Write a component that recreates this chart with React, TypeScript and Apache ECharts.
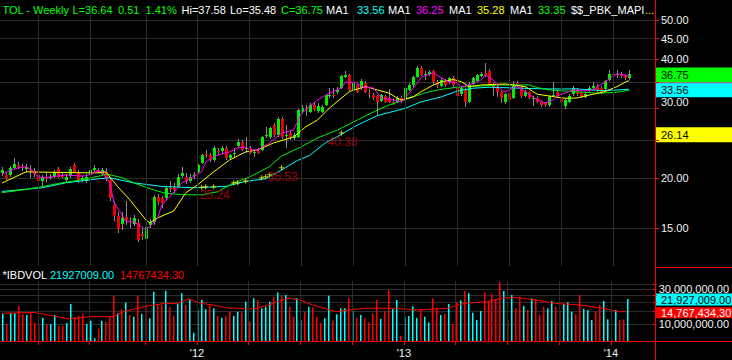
import React, { useEffect, useRef } from "react";
import * as echarts from "echarts";

// ---------------- data ----------------
const SLOT_COUNT = 164; // weekly slots on the x axis (158 candles + empty space at right)
const YEAR_LABELS: [number, string][] = [
  [49, "'12"],
  [101, "'13"],
  [153, "'14"],
];
const QUARTER_INDEX = [9, 22, 36, 49, 62, 75, 88, 101, 114, 127, 140, 153];
const PRICE_TICKS = [15, 20, 25, 30, 35, 40, 45, 50];
const PRICE_LABELS = [15, 20, 30, 40, 45, 50];
const PRICE_AXIS_MIN = 12.04;
const PRICE_AXIS_MAX = 51.6;
const VOL_TICKS_M = [10, 15, 20, 25, 30, 35];
const VOL_LABELS_M = [10, 30];
const VOL_AXIS_MIN_M = 5.68;
const VOL_AXIS_MAX_M = 38.6;

// [open, close, low, high]
const OHLC: number[][] = [
  [20.6, 21.0, 20.3, 21.4], [20.4, 20.0, 19.8, 20.7], [20.4, 21.3, 20.2, 21.5], [21.3, 21.7, 21.1, 22.5],
  [21.6, 21.4, 21.1, 22.0], [21.4, 21.2, 20.9, 21.7], [21.1, 21.4, 20.8, 21.7], [21.1, 21.0, 20.0, 21.6],
  [20.9, 20.5, 20.2, 21.2], [20.4, 19.7, 19.5, 20.6], [19.7, 20.2, 19.1, 20.4], [20.1, 20.0, 19.6, 20.6],
  [20.0, 20.2, 19.8, 20.5], [20.2, 20.8, 20.0, 21.0], [21.1, 20.2, 20.0, 21.4], [20.3, 20.2, 19.9, 20.7],
  [19.8, 20.2, 19.6, 20.5], [20.3, 21.1, 20.1, 21.4], [21.6, 20.8, 20.6, 21.9], [20.8, 19.7, 19.5, 21.0],
  [19.8, 20.0, 19.6, 20.3], [19.7, 20.2, 19.5, 20.5], [20.4, 21.0, 20.2, 21.2], [21.0, 21.2, 20.8, 21.6],
  [21.0, 20.8, 20.6, 21.2], [20.5, 21.0, 20.3, 21.3], [20.8, 19.9, 19.7, 21.3], [19.85, 17.9, 17.6, 20.2],
  [17.1, 16.1, 15.6, 17.6], [16.1, 14.9, 14.6, 16.5], [15.4, 15.9, 14.8, 16.5], [15.95, 15.75, 15.3, 17.6],
  [15.6, 15.5, 15.0, 16.0], [15.4, 15.9, 15.2, 16.2], [15.45, 14.0, 13.8, 15.8], [14.5, 14.35, 14.0, 15.0],
  [14.1, 15.1, 13.1, 15.3], [15.3, 15.5, 15.0, 15.8], [15.5, 18.0, 15.3, 18.2], [18.0, 17.4, 17.1, 18.3],
  [17.85, 17.3, 16.9, 18.1], [17.9, 18.95, 17.6, 19.1], [18.95, 18.85, 18.5, 19.7], [19.0, 18.7, 18.4, 19.5],
  [19.05, 20.2, 18.9, 20.5], [20.3, 20.6, 20.0, 21.4], [20.2, 19.7, 19.4, 20.6], [19.7, 20.2, 19.5, 20.5],
  [20.3, 20.4, 19.9, 20.8], [20.8, 21.6, 20.6, 21.8], [21.9, 22.9, 21.7, 23.1], [23.05, 22.85, 22.5, 23.6],
  [22.9, 22.25, 22.0, 23.2], [22.3, 23.9, 22.0, 24.2], [23.4, 23.3, 22.9, 23.9], [23.4, 23.9, 23.1, 24.1],
  [23.9, 22.5, 22.3, 24.1], [22.5, 22.9, 22.2, 23.1], [23.0, 23.2, 22.7, 23.8], [24.2, 24.7, 23.9, 25.2],
  [24.7, 23.6, 23.4, 25.0], [23.7, 23.8, 23.2, 25.4], [23.9, 23.2, 23.0, 24.1], [23.2, 23.3, 22.7, 23.6],
  [23.4, 23.2, 23.0, 23.8], [23.6, 25.4, 23.4, 25.6], [25.6, 25.7, 25.3, 26.9], [25.4, 26.8, 25.2, 27.0],
  [27.3, 25.7, 25.5, 27.6], [25.7, 28.2, 25.5, 28.5], [28.2, 25.4, 25.2, 28.5], [25.6, 25.8, 23.9, 27.3],
  [26.0, 25.4, 25.0, 26.4], [25.3, 25.7, 25.0, 26.0], [25.4, 29.7, 25.3, 29.9], [29.4, 30.1, 29.0, 30.6],
  [30.0, 29.9, 28.7, 30.6], [29.4, 30.6, 29.2, 31.0], [30.6, 29.8, 29.5, 31.0], [29.5, 30.5, 29.2, 30.9],
  [29.4, 30.2, 29.2, 30.6], [30.6, 32.4, 30.4, 32.7], [32.3, 32.4, 31.9, 33.8], [32.4, 32.3, 31.8, 33.8],
  [33.0, 33.4, 32.7, 34.0], [33.8, 36.2, 33.6, 36.4], [36.1, 36.4, 35.8, 37.3], [36.4, 33.4, 33.2, 36.6],
  [33.4, 34.8, 33.0, 35.0], [34.3, 33.0, 32.8, 34.6], [33.8, 35.2, 33.5, 35.6], [34.8, 33.0, 32.8, 35.2],
  [32.9, 32.8, 31.8, 33.6], [32.5, 31.9, 31.5, 32.8], [32.2, 31.2, 28.8, 32.5], [31.4, 32.4, 31.1, 32.7],
  [32.2, 31.2, 30.9, 32.5], [31.9, 31.2, 30.9, 33.6], [31.2, 31.0, 30.6, 31.8], [31.2, 31.9, 30.9, 32.3],
  [31.9, 31.3, 31.0, 32.2], [31.8, 33.8, 31.6, 34.0], [33.5, 34.4, 33.2, 34.8], [34.3, 36.0, 34.0, 36.3],
  [36.0, 38.0, 35.8, 38.3], [38.0, 36.5, 36.2, 38.5], [36.6, 36.7, 35.5, 37.4], [36.6, 37.1, 36.3, 37.6],
  [37.3, 34.9, 34.6, 37.6], [34.9, 34.3, 33.7, 35.3], [34.2, 35.4, 33.9, 35.8], [35.2, 34.3, 34.0, 35.6],
  [34.9, 35.8, 34.6, 36.1], [35.8, 34.3, 34.0, 36.2], [33.8, 32.3, 31.9, 34.1], [32.6, 33.8, 32.3, 34.1],
  [33.4, 31.2, 30.3, 33.7], [31.2, 34.6, 30.9, 34.9], [34.6, 35.8, 34.4, 36.1], [35.2, 36.4, 34.9, 36.7],
  [36.3, 36.7, 36.0, 37.1], [36.8, 36.5, 36.1, 39.0], [37.4, 34.5, 34.2, 37.8], [34.4, 33.8, 32.3, 34.7],
  [33.8, 33.0, 32.0, 34.2], [33.0, 31.9, 31.0, 33.3], [31.1, 32.6, 30.8, 32.9], [32.8, 31.5, 31.2, 33.0],
  [31.9, 34.2, 31.7, 35.2], [34.8, 34.6, 34.0, 35.1], [34.0, 32.3, 31.9, 34.3], [32.3, 33.0, 32.0, 33.4],
  [33.0, 31.9, 31.7, 33.2], [31.8, 31.9, 30.5, 32.3], [31.9, 31.2, 30.9, 32.2], [31.2, 30.6, 30.3, 31.5],
  [30.9, 30.6, 30.2, 31.2], [30.6, 32.1, 30.3, 32.5], [32.3, 32.4, 32.0, 34.9], [33.0, 32.3, 32.0, 33.4],
  [31.7, 31.1, 30.8, 32.0], [30.5, 31.5, 29.9, 31.8], [31.2, 32.3, 30.9, 32.6], [32.6, 33.8, 32.3, 34.1],
  [33.4, 32.6, 32.3, 33.7], [32.8, 32.3, 31.9, 33.1], [32.0, 32.6, 31.8, 33.0], [33.4, 33.8, 33.1, 34.2],
  [33.8, 34.2, 33.5, 35.0], [34.2, 33.4, 33.1, 34.5], [33.8, 33.0, 32.7, 34.1], [33.6, 35.2, 33.3, 35.4],
  [35.4, 36.7, 35.2, 37.5], [36.7, 36.5, 36.2, 37.5], [36.6, 36.7, 35.9, 37.5], [36.7, 36.2, 35.9, 37.0],
  [36.2, 35.9, 35.4, 36.5], [35.8, 36.75, 35.48, 37.58],
];

// weekly volume, millions of shares
const VOLUME_M = [
  13.7, 10.0, 14.1, 14.1, 17.6, 13.7, 13.3, 14.4, 10.4, 10.0, 12.2, 10.0, 10.0, 13.3, 9.5, 9.5,
  10.2, 18.7, 12.6, 13.0, 13.6, 10.0, 11.1, 6.4, 8.7, 11.1, 10.75, 12.6, 24.1, 14.0, 15.9, 19.5,
  13.3, 12.6, 24.1, 13.7, 18.2, 11.95, 27.6, 18.5, 18.2, 28.5, 16.9, 12.85, 19.1, 26.2, 18.2, 21.9,
  7.6, 15.5, 21.2, 15.9, 18.2, 16.4, 12.85, 12.2, 12.85, 14.8, 13.0, 14.7, 14.4, 20.1, 10.75, 22.4,
  21.2, 16.4, 17.2, 20.1, 23.6, 27.0, 24.3, 24.8, 17.2, 12.6, 22.4, 11.35, 14.7, 17.2, 16.9, 12.6,
  10.2, 11.95, 24.3, 11.2, 13.6, 16.4, 16.4, 22.7, 15.1, 12.2, 13.3, 12.0, 10.6, 13.8, 21.2, 11.7,
  14.8, 29.0, 16.0, 21.2, 6.9, 12.6, 12.9, 17.5, 12.1, 16.0, 12.6, 10.5, 22.4, 16.7, 13.3, 13.8,
  18.7, 10.0, 19.8, 21.0, 28.2, 26.2, 14.2, 11.35, 15.0, 27.0, 20.0, 25.6, 21.2, 37.0, 28.2, 11.35,
  24.8, 16.4, 23.6, 17.8, 15.5, 22.4, 21.9, 13.3, 17.2, 16.4, 20.6, 17.2, 15.5, 18.7, 19.8, 14.7,
  13.6, 24.8, 16.0, 15.5, 11.35, 14.7, 18.2, 20.6, 11.6, 6.2, 15.5, 11.35, 11.6, 21.927009,
];

// 1 = up week (cyan volume bar), 0 = down week (red volume bar)
const VOL_UP = [
  1, 0, 1, 1, 0, 0, 1, 0, 0, 0, 1, 0, 1, 1, 0, 0, 1, 1, 0, 0, 0, 1, 1, 1, 0, 1, 0, 0, 0, 1, 0, 1,
  0, 1, 0, 1, 0, 1, 1, 0, 0, 1, 0, 0, 1, 1, 0, 1, 1, 1, 1, 1, 0, 1, 0, 1, 0, 0, 1, 1, 0, 1, 0, 1,
  0, 1, 1, 1, 0, 1, 0, 1, 0, 0, 1, 1, 0, 1, 0, 0, 0, 1, 1, 0, 1, 1, 1, 0, 1, 0, 1, 0, 0, 0, 0, 1,
  0, 0, 1, 1, 0, 1, 1, 1, 1, 0, 1, 1, 0, 0, 1, 0, 1, 0, 0, 1, 0, 1, 1, 1, 1, 0, 0, 0, 0, 0, 1, 0,
  1, 0, 0, 1, 0, 1, 0, 0, 0, 1, 1, 0, 0, 1, 1, 1, 0, 0, 1, 1, 1, 0, 0, 1, 1, 0, 1, 0, 0, 1,
];

// moving averages: [week index, price]
const MA_CYAN: number[][] = [
  [0, 18.55], [10, 18.95], [16, 19.5], [24, 19.95], [27, 20.08], [33, 19.5], [40, 19.1], [48, 18.95],
  [56, 19.1], [61, 19.66], [66, 19.97], [70, 21.0], [74, 22.2], [77, 22.85], [81, 24.6], [84, 25.5],
  [89, 27.27], [94, 28.8], [101, 30.05], [105, 31.2], [110, 32.1], [114, 33.2], [118, 33.75], [122, 33.95],
  [130, 33.75], [137, 33.6], [144, 33.6], [150, 33.3], [154, 33.4], [157, 33.56],
];
const MA_GREEN: number[][] = [
  [0, 18.42], [5, 18.71], [10, 19.07], [15, 19.51], [20, 19.85], [25, 20.35], [26, 20.52], [30, 20.11],
  [33, 19.48], [38, 18.71], [41, 18.35], [46, 18.19], [50, 18.19], [54, 18.52], [58, 19.48], [62, 20.17],
  [67, 21.42], [70, 22.79], [75, 24.05], [79, 25.29], [84, 26.49], [89, 28.07], [94, 29.75], [97, 30.63],
  [102, 31.84], [106, 32.89], [109, 33.41], [114, 33.95], [120, 34.2], [125, 34.39], [132, 34.39], [134, 33.88],
  [137, 33.41], [143, 33.1], [149, 32.79], [154, 32.98], [157, 33.35],
];
const MA_YELLOW: number[][] = [
  [0, 19.48], [6, 20.78], [16, 20.7], [24, 20.66], [26, 20.78], [29, 19.06], [32, 17.67], [36, 15.74],
  [37, 15.47], [39, 15.92], [43, 16.57], [46, 18.4], [49, 19.28], [53, 20.78], [57, 22.27], [61, 23.33],
  [64, 23.6], [68, 24.57], [73, 25.44], [76, 26.96], [79, 28.07], [82, 30.1], [87, 33.1], [91, 34.07],
  [94, 33.41], [97, 32.79], [99, 31.84], [100, 31.53], [103, 32.14], [105, 33.1], [108, 34.39], [110, 35.06],
  [113, 35.5], [115, 35.06], [117, 34.07], [120, 34.39], [126, 34.59], [131, 34.07], [133, 33.1], [134, 32.6],
  [138, 32.14], [141, 31.84], [144, 31.9], [148, 32.6], [151, 33.1], [154, 34.07], [156, 34.94], [157, 35.28],
];
const MA_MAGENTA: number[][] = [
  [0, 20.52], [4, 21.27], [6, 21.4], [8, 20.78], [9, 20.17], [11, 20.08], [14, 20.3], [16, 20.43],
  [19, 20.3], [21, 20.3], [24, 20.9], [25, 20.8], [27, 19.48], [28, 17.46], [30, 16.2], [31, 15.56],
  [33, 15.56], [35, 15.12], [36, 14.86], [37, 15.12], [39, 15.92], [40, 17.16], [42, 17.98], [44, 18.95],
  [45, 19.48], [47, 19.96], [50, 20.78], [51, 22.0], [53, 22.65], [54, 22.92], [57, 23.33], [59, 23.87],
  [61, 24.0], [62, 23.6], [64, 23.6], [67, 24.57], [70, 26.03], [73, 26.49], [75, 29.2], [79, 31.53],
  [82, 32.8], [85, 33.8], [86, 35.0], [89, 34.8], [90, 34.0], [93, 33.8], [95, 31.9], [98, 31.53],
  [100, 31.17], [102, 32.86], [104, 34.8], [105, 36.0], [108, 36.9], [110, 35.82], [112, 35.0], [114, 34.8],
  [115, 34.0], [117, 34.39], [120, 35.41], [121, 36.45], [123, 35.41], [124, 34.39], [125, 33.41], [126, 33.03],
  [128, 33.8], [129, 34.2], [131, 33.03], [133, 32.08], [134, 31.53], [136, 30.99], [138, 31.53], [139, 32.27],
  [141, 32.84], [143, 33.41], [144, 33.41], [146, 33.2], [148, 33.41], [149, 34.0], [151, 35.0], [153, 36.24],
  [154, 36.66], [156, 36.45], [157, 36.25],
];
// volume moving average: [week index, millions]
const VOL_MA_M: number[][] = [
  [0, 14.0], [8, 14.4], [17, 11.7], [22, 12.6], [28, 12.6], [31, 15.0], [37, 17.8], [41, 19.1],
  [44, 19.1], [47, 21.9], [50, 19.1], [53, 18.2], [57, 16.4], [60, 16.4], [62, 15.9], [64, 16.4],
  [67, 18.2], [69, 20.1], [72, 22.4], [75, 21.2], [78, 18.2], [81, 16.4], [84, 14.7], [87, 15.5],
  [91, 16.4], [99, 16.4], [104, 15.5], [112, 16.4], [116, 19.1], [122, 20.1], [126, 22.8], [130, 22.8],
  [134, 21.2], [139, 19.1], [145, 18.2], [151, 16.4], [155, 14.7], [157, 14.767434],
];
// yellow "+" signal marks: [week index, price]
const SIGNAL_MARKS: number[][] = [
  [50, 19.0], [51, 19.06], [53, 19.06], [58, 19.5], [59, 19.5], [61, 19.72],
  [65, 20.08], [66, 20.2], [67, 20.43], [70, 21.27], [85, 26.03],
];
// red target texts: [week index, price, text]
const TARGET_TEXTS: [number, number, string][] = [
  [49, 18.2, "25.24"],
  [66, 20.17, "35.53"],
  [81, 24.7, "40.38"],
];
const LAST_CLOSE = 36.75;
const LAST_MA_MAGENTA = 36.25;
const LAST_MA_CYAN = 33.56;
const OTHER_LEVEL = 26.14;
const LAST_VOLUME = 21927009.0;
const LAST_VOL_MA = 14767434.3;

const HEADER: [string, string][] = [
  ["TOL - Weekly", "g"], ["L=36.64", "g"], ["0.51", "g"], ["1.41%", "g"], ["Hi=37.58", "w"],
  ["Lo=35.48", "w"], ["C=36.75", "g"], ["MA1", "w"], ["33.56", "c"], ["MA1", "w"], ["36.25", "m"],
  ["MA1", "w"], ["35.28", "y"], ["MA1", "w"], ["33.35", "g"], ["$$_PBK_MAPI", "w"], ["...", "y"],
];
const VOL_HEADER: [string, string][] = [["*IBDVOL", "w"], ["21927009.00", "c"], ["14767434.30", "r"]];

// ---------------- styles ----------------
const FONT = '"Liberation Sans", Arial, Helvetica, sans-serif';
const COL: Record<string, string> = {
  g: "#00ff00", w: "#ffffff", c: "#00ffff", m: "#ff00ff", y: "#ffff00", r: "#ff0000",
};
const HEADER_X = [2.5, 72.5, 118, 145.5, 181.5, 230, 281, 326, 357, 388, 416, 449, 477, 510, 538, 571, 645];
const VOL_HEADER_X = [2.5, 50, 120];
const GRID_COLOR = "#2c2c2c";
const UP = "#00ee00";
const DOWN = "#ee0000";
const WICK = "#8a8a8a";
const RED = "#ff0000";
const AXIS_TEXT = "#f2f2f2";

const fmtVol = (n: number) =>
  n.toLocaleString("en-US", { minimumFractionDigits: 2, maximumFractionDigits: 2 });

export default function App() {
  const ref = useRef<HTMLDivElement>(null);

  useEffect(() => {
    if (!ref.current) return;
    const chart = echarts.init(ref.current, null, { renderer: "svg" });
    const cats = Array.from({ length: SLOT_COUNT }, (_, i) => String(i));
    const yearMap = new Map<number, string>(YEAR_LABELS);
    const ln = Math.log;
    const volMinLn = ln(VOL_AXIS_MIN_M);

    const candleData = OHLC.map((r, i) => [i, ln(r[0]), ln(r[1]), ln(r[2]), ln(r[3])]);
    const volData = VOLUME_M.map((v, i) => [i, ln(v), VOL_UP[i]]);
    const maLine = (arr: number[][], color: string, z: number) => ({
      type: "line",
      xAxisIndex: 0,
      yAxisIndex: 0,
      data: arr.map(([i, p]) => [i, ln(p)]),
      symbol: "none",
      silent: true,
      z,
      lineStyle: { color, width: 1 },
    });
    const vLines = (xi: number) => ({
      type: "line",
      xAxisIndex: xi,
      yAxisIndex: xi,
      data: [],
      silent: true,
      z: 1,
      markLine: {
        silent: true,
        symbol: ["none", "none"],
        label: { show: false },
        lineStyle: { color: GRID_COLOR, type: "solid", width: 1 },
        data: QUARTER_INDEX.map((i) => ({ xAxis: i })),
      },
    });

    const option: any = {
      animation: false,
      backgroundColor: "#000000",
      textStyle: { fontFamily: FONT },
      grid: [
        { left: 0, right: 77, top: 15, height: 251 },
        { left: 0, right: 77, top: 281, height: 61 },
      ],
      xAxis: [
        {
          gridIndex: 0, type: "category", data: cats, boundaryGap: true,
          axisLine: { show: false }, axisTick: { show: false }, axisLabel: { show: false }, splitLine: { show: false },
        },
        {
          gridIndex: 1, type: "category", data: cats, boundaryGap: true,
          axisLine: { show: false },
          axisTick: {
            show: true, alignWithLabel: true, length: 3,
            interval: (i: number) => QUARTER_INDEX.includes(i),
            lineStyle: { color: RED },
          },
          axisLabel: {
            show: true,
            interval: (i: number) => yearMap.has(i),
            formatter: (_v: string, i: number) => yearMap.get(i) ?? "",
            color: AXIS_TEXT, fontSize: 11, fontFamily: FONT, margin: 5,
          },
          splitLine: { show: false },
        },
      ],
      yAxis: [
        {
          gridIndex: 0, type: "value", position: "right",
          min: ln(PRICE_AXIS_MIN), max: ln(PRICE_AXIS_MAX),
          axisLine: { show: false },
          axisTick: { show: true, customValues: PRICE_TICKS.map(ln), length: 4, lineStyle: { color: RED } },
          axisLabel: {
            customValues: PRICE_LABELS.map(ln),
            formatter: (v: number) => {
              const s = Math.exp(v).toFixed(2);
              return s === "30.00" ? `{lift|${s}}` : s;
            },
            rich: { lift: { padding: [0, 0, 14, 0], color: AXIS_TEXT, fontSize: 11, fontFamily: FONT } },
            color: AXIS_TEXT, fontSize: 11, fontFamily: FONT, margin: 6,
          },
          splitLine: { show: true, lineStyle: { color: GRID_COLOR, width: 1 } },
        },
        {
          gridIndex: 1, type: "value", position: "right",
          min: volMinLn, max: ln(VOL_AXIS_MAX_M),
          axisLine: { show: false },
          axisTick: { show: true, customValues: VOL_TICKS_M.map(ln), length: 4, lineStyle: { color: RED } },
          axisLabel: {
            customValues: VOL_LABELS_M.map(ln),
            formatter: (v: number) => fmtVol(Math.round(Math.exp(v)) * 1e6),
            color: AXIS_TEXT, fontSize: 11, fontFamily: FONT, margin: 6,
          },
          splitLine: { show: true, lineStyle: { color: GRID_COLOR, width: 1 } },
        },
      ],
      series: [
        vLines(0),
        vLines(1),
        {
          type: "custom",
          xAxisIndex: 0,
          yAxisIndex: 0,
          z: 2,
          silent: true,
          data: candleData,
          encode: { x: 0, y: [1, 2, 3, 4] },
          renderItem: (_p: any, api: any) => {
            const i = api.value(0);
            const o = api.value(1), c = api.value(2), l = api.value(3), h = api.value(4);
            const po = api.coord([i, o]);
            const pc = api.coord([i, c]);
            const pl = api.coord([i, l]);
            const ph = api.coord([i, h]);
            const cx = Math.round(po[0]);
            const top = Math.round(Math.min(po[1], pc[1]));
            const bot = Math.round(Math.max(po[1], pc[1]));
            return {
              type: "group",
              children: [
                {
                  type: "line",
                  shape: { x1: cx + 0.5, y1: Math.round(ph[1]), x2: cx + 0.5, y2: Math.round(pl[1]) },
                  style: { stroke: WICK, lineWidth: 1 },
                },
                {
                  type: "rect",
                  shape: { x: cx - 1, y: top, width: 3, height: Math.max(1, bot - top) },
                  style: { fill: c >= o ? UP : DOWN },
                },
              ],
            };
          },
        },
        maLine(MA_CYAN, "#00ffff", 3),
        maLine(MA_GREEN, "#00ee00", 3),
        maLine(MA_YELLOW, "#ffff00", 3),
        maLine(MA_MAGENTA, "#ff00ff", 3),
        {
          type: "scatter",
          xAxisIndex: 0,
          yAxisIndex: 0,
          z: 4,
          silent: true,
          symbol: "path://M2,0h1v2h2v1h-2v2h-1v-2h-2v-1h2z",
          symbolSize: 5,
          itemStyle: { color: "#ffff00" },
          data: SIGNAL_MARKS.map(([i, p]) => [i, ln(p)]),
        },
        {
          type: "scatter",
          xAxisIndex: 0,
          yAxisIndex: 0,
          z: 4,
          silent: true,
          symbolSize: 0,
          data: TARGET_TEXTS.map(([i, p, t]) => ({ value: [i, ln(p)], name: t })),
          label: {
            show: true,
            position: "right",
            distance: 2,
            formatter: (p: any) => p.name,
            color: "#c80000",
            fontSize: 12,
            fontFamily: FONT,
          },
        },
        {
          type: "custom",
          xAxisIndex: 1,
          yAxisIndex: 1,
          z: 2,
          silent: true,
          data: volData,
          encode: { x: 0, y: 1 },
          renderItem: (_p: any, api: any) => {
            const i = api.value(0);
            const v = api.value(1);
            const up = api.value(2);
            const p = api.coord([i, v]);
            const base = api.coord([i, volMinLn])[1];
            const cx = Math.round(p[0]);
            return {
              type: "rect",
              shape: { x: cx, y: p[1], width: 1.5, height: base - p[1] },
              style: { fill: up ? "#00ffff" : "#ff0000" },
            };
          },
        },
        {
          type: "line",
          xAxisIndex: 1,
          yAxisIndex: 1,
          z: 3,
          silent: true,
          symbol: "none",
          data: VOL_MA_M.map(([i, v]) => [i, ln(v)]),
          lineStyle: { color: RED, width: 1 },
        },
      ],
    };
    chart.setOption(option);

    const py = (v: number) => chart.convertToPixel({ yAxisIndex: 0 }, ln(v)) as number;
    const vy = (v: number) => chart.convertToPixel({ yAxisIndex: 1 }, ln(v / 1e6)) as number;

    const box = (cy: number, h: number, fill: string, text: string, textColor: string) => ({
      type: "group",
      z: 50,
      children: [
        { type: "rect", shape: { x: 656, y: cy - h / 2, width: 76, height: h }, style: { fill } },
        {
          type: "text",
          x: 661,
          y: cy,
          style: { text, fill: textColor, font: `11px ${FONT}`, verticalAlign: "middle", align: "left" },
        },
      ],
    });

    const graphics: any[] = [
      { type: "rect", z: 40, shape: { x: 656, y: 0, width: 76, height: 14 }, style: { fill: "#000" } },
      ...HEADER.map(([t, c], k) => ({
        type: "text",
        z: 60,
        x: HEADER_X[k],
        y: 10,
        style: { text: t, fill: COL[c], font: `11px ${FONT}`, verticalAlign: "middle", align: "left" },
      })),
      ...VOL_HEADER.map(([t, c], k) => ({
        type: "text",
        z: 60,
        x: VOL_HEADER_X[k],
        y: 275,
        style: { text: t, fill: COL[c], font: `11px ${FONT}`, verticalAlign: "middle", align: "left" },
      })),
      box(py(LAST_MA_MAGENTA) + 1.5, 15, "#ff00ff", "", "#000"),
      box(py(LAST_CLOSE) + 1.4, 15, "#00ff00", LAST_CLOSE.toFixed(2), "#000"),
      box(py(LAST_MA_CYAN) + 1.0, 14, "#00ffff", LAST_MA_CYAN.toFixed(2), "#000"),
      box(py(OTHER_LEVEL) + 2.5, 15, "#ffff00", OTHER_LEVEL.toFixed(2), "#000"),
      box(vy(LAST_VOLUME) + 0.5, 12, "#00ffff", fmtVol(LAST_VOLUME), "#000"),
      box(vy(LAST_VOL_MA) + 1.2, 11, "#ff0000", fmtVol(LAST_VOL_MA), "#ffffff"),
      { type: "line", z: 70, shape: { x1: 655.5, y1: 0, x2: 655.5, y2: 360 }, style: { stroke: RED, lineWidth: 1 } },
      { type: "line", z: 70, shape: { x1: 655, y1: 267.5, x2: 732, y2: 267.5 }, style: { stroke: RED, lineWidth: 1 } },
      { type: "line", z: 70, shape: { x1: 0, y1: 341.5, x2: 732, y2: 341.5 }, style: { stroke: RED, lineWidth: 1 } },
    ];
    chart.setOption({ graphic: graphics });

    return () => chart.dispose();
  }, []);

  return (
    <div
      ref={ref}
      style={{ position: "fixed", left: 0, top: 0, width: 732, height: 360, background: "#000" }}
    />
  );
}
